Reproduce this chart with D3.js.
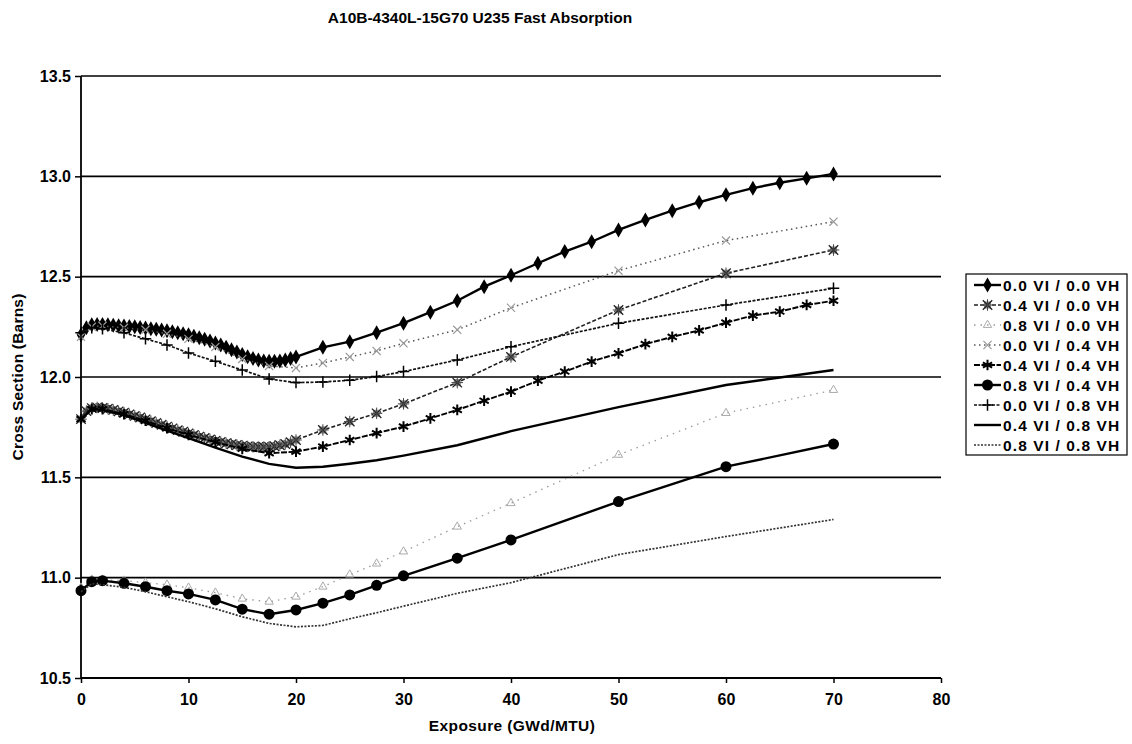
<!DOCTYPE html>
<html>
<head>
<meta charset="utf-8">
<script src="https://cdn.jsdelivr.net/npm/d3@7"></script>
<style>
  body { margin: 0; background: #fff; }
  svg { font-family: "Liberation Sans", Arial, sans-serif; font-weight: bold; }
</style>
</head>
<body>
<svg id="chart" width="1132" height="744"></svg>
<script>
// exposure grids (GWd/MTU)
const expDense = [0,0.5,1,1.5,2,2.5,3,3.5,4,4.5,5,5.5,6,6.5,7,7.5,8,8.5,9,9.5,10,10.5,11,11.5,12,12.5,13,13.5,14,14.5,15,15.5,16,16.5,17,17.5,18,18.5,19,19.5,20]
const expSparse = [0,1,2,4,6,8,10,12.5,15,17.5,20]
const expFine = [22.5,25,27.5,30,32.5,35,37.5,40,42.5,45,47.5,50,52.5,55,57.5,60,62.5,65,67.5,70]
const expCoarse = [22.5,25,27.5,30,35,40,50,60,70]

// cross sections (barns)
const vi00vh00 = [12.21,12.245,12.26,12.262,12.262,12.26,12.258,12.256,12.254,12.252,12.25,12.247,12.244,12.241,12.238,12.234,12.23,12.225,12.22,12.215,12.21,12.203,12.196,12.188,12.18,12.17,12.16,12.148,12.136,12.124,12.112,12.101,12.092,12.085,12.08,12.078,12.078,12.08,12.085,12.092,12.10,
  12.148,12.176,12.221,12.268,12.323,12.38,12.45,12.507,12.567,12.625,12.674,12.733,12.783,12.829,12.871,12.908,12.941,12.968,12.99,13.012]
const vi04vh00 = [11.79,11.83,11.845,11.848,11.846,11.842,11.836,11.829,11.822,11.814,11.806,11.798,11.789,11.78,11.771,11.762,11.753,11.744,11.735,11.727,11.719,11.711,11.703,11.696,11.689,11.682,11.676,11.67,11.665,11.661,11.657,11.654,11.652,11.651,11.651,11.652,11.655,11.66,11.666,11.675,11.686,
  11.736,11.778,11.819,11.866,11.972,12.10,12.334,12.517,12.633]
const vi08vh00 = [10.95,10.99,10.99,10.985,10.975,10.965,10.95,10.925,10.895,10.88,10.905, 10.955,11.015,11.07,11.13,11.254,11.371,11.612,11.82,11.935]
const vi00vh04 = [12.20,12.25,12.255,12.245,12.235,12.215,12.19,12.15,12.09,12.055,12.045, 12.07,12.10,12.13,12.168,12.235,12.345,12.53,12.68,12.774]
const vi04vh04 = [11.79,11.84,11.84,11.815,11.782,11.745,11.712,11.675,11.642,11.62,11.628,
  11.653,11.686,11.72,11.753,11.794,11.836,11.882,11.927,11.982,12.027,12.077,12.118,12.164,12.2,12.232,12.271,12.306,12.326,12.359,12.38]
const vi08vh04 = [10.935,10.98,10.985,10.972,10.955,10.935,10.919,10.889,10.843,10.818,10.839, 10.873,10.914,10.962,11.009,11.097,11.188,11.379,11.553,11.666]
const vi00vh08 = [12.22,12.245,12.24,12.22,12.19,12.16,12.12,12.078,12.035,11.99,11.972, 11.975,11.984,12.002,12.027,12.085,12.151,12.268,12.359,12.442]
const vi04vh08 = [11.79,11.84,11.835,11.81,11.772,11.733,11.695,11.648,11.603,11.567,11.548, 11.553,11.568,11.585,11.608,11.66,11.73,11.85,11.96,12.035]
const vi08vh08 = [10.93,10.97,10.965,10.952,10.93,10.905,10.88,10.845,10.805,10.772,10.755, 10.762,10.795,10.825,10.858,10.922,10.975,11.115,11.205,11.29]

const xTicks = [0,10,20,30,40,50,60,70,80]
const yTicks = [10.5,11.0,11.5,12.0,12.5,13.0,13.5]

const series = [
  { name: "0.0 VI / 0.0 VH", x: expDense.concat(expFine), y: vi00vh00, stroke: "#000", width: 2.4, dash: null, marker: "diamond" },
  { name: "0.4 VI / 0.0 VH", x: expDense.concat(expCoarse), y: vi04vh00, stroke: "#222", width: 1.6, dash: "4,2", marker: "hatch" },
  { name: "0.8 VI / 0.0 VH", x: expSparse.concat(expCoarse), y: vi08vh00, stroke: "#9a9a9a", width: 1.3, dash: "1.5,5", marker: "tri" },
  { name: "0.0 VI / 0.4 VH", x: expSparse.concat(expCoarse), y: vi00vh04, stroke: "#555", width: 1.5, dash: "1.5,3.5", marker: "times" },
  { name: "0.4 VI / 0.4 VH", x: expSparse.concat(expFine), y: vi04vh04, stroke: "#000", width: 1.9, dash: "6,1.5", marker: "aster" },
  { name: "0.8 VI / 0.4 VH", x: expSparse.concat(expCoarse), y: vi08vh04, stroke: "#000", width: 2.4, dash: null, marker: "circle" },
  { name: "0.0 VI / 0.8 VH", x: expSparse.concat(expCoarse), y: vi00vh08, stroke: "#111", width: 1.7, dash: "3,1.5", marker: "plus" },
  { name: "0.4 VI / 0.8 VH", x: expSparse.concat(expCoarse), y: vi04vh08, stroke: "#000", width: 2.4, dash: null, marker: null },
  { name: "0.8 VI / 0.8 VH", x: expSparse.concat(expCoarse), y: vi08vh08, stroke: "#333", width: 1.7, dash: "2,1.5", marker: null }
]

const svg = d3.select("#chart")
const x = d3.scaleLinear().domain([0, 80]).range([81, 941])
const y = d3.scaleLinear().domain([10.5, 13.5]).range([678, 76])

// title
svg.append("text")
  .attr("x", 480).attr("y", 23)
  .attr("text-anchor", "middle")
  .style("font-size", "15.5px")
  .text("A10B-4340L-15G70 U235 Fast Absorption")

// gridlines
svg.append("g").selectAll("line")
  .data(yTicks.filter(d => d > 10.5))
  .enter().append("line")
  .attr("x1", x(0)).attr("x2", x(80))
  .attr("y1", d => y(d)).attr("y2", d => y(d))
  .attr("stroke", "#000").attr("stroke-width", 1.6)

// axes
const yAxis = d3.axisLeft(y).tickValues(yTicks).tickFormat(d3.format(".1f")).tickSize(6).tickPadding(4)
const gy = svg.append("g").attr("transform", "translate(" + x(0) + ",0)").call(yAxis)
gy.selectAll("text").style("font-size", "16px").style("font-family", "inherit")

const xAxis = d3.axisBottom(x).tickValues(xTicks).tickFormat(d3.format("d")).tickSize(5).tickPadding(11)
const gx = svg.append("g").attr("transform", "translate(0," + y(10.5) + ")").call(xAxis)
gx.selectAll("text").style("font-size", "16px").style("font-family", "inherit")

svg.selectAll(".domain").attr("stroke", "#000").attr("stroke-width", 1.8)
svg.selectAll(".tick line").attr("stroke", "#000").attr("stroke-width", 1.5)
gy.select(".domain").attr("d", "M0," + y(13.5) + "V" + y(10.5))
gx.select(".domain").attr("d", "M" + x(0) + ",0H" + x(80))

// axis titles
svg.append("text")
  .attr("transform", "translate(23," + 377 + ") rotate(-90)")
  .attr("text-anchor", "middle")
  .style("font-size", "15.5px")
  .style("letter-spacing", "0.2px")
  .text("Cross Section (Barns)")

svg.append("text")
  .attr("x", 512).attr("y", 731)
  .attr("text-anchor", "middle")
  .style("font-size", "15.5px")
  .style("letter-spacing", "0.4px")
  .text("Exposure (GWd/MTU)")

function drawMarker(g, kind) {
  if (kind === "diamond") {
    g.append("path").attr("d", d3.symbol(d3.symbolDiamond, 65)()).attr("fill", "#000")
  } else if (kind === "hatch") {
    g.append("path").attr("d", d3.symbol(d3.symbolSquare, 50)()).attr("fill", "#888")
    g.append("path").attr("d", d3.symbol(d3.symbolTimes, 60)()).attr("fill", "none").attr("stroke", "#222").attr("stroke-width", 1.3)
    g.append("path").attr("d", d3.symbol(d3.symbolPlus, 45)()).attr("fill", "none").attr("stroke", "#444").attr("stroke-width", 1)
  } else if (kind === "tri") {
    g.append("path").attr("d", d3.symbol(d3.symbolTriangle, 30)()).attr("fill", "none").attr("stroke", "#aaa").attr("stroke-width", 1)
  } else if (kind === "times") {
    g.append("path").attr("d", d3.symbol(d3.symbolTimes, 45)()).attr("fill", "none").attr("stroke", "#999").attr("stroke-width", 1.2)
  } else if (kind === "aster") {
    g.append("path").attr("d", d3.symbol(d3.symbolAsterisk, 80)()).attr("fill", "none").attr("stroke", "#000").attr("stroke-width", 2)
  } else if (kind === "circle") {
    g.append("circle").attr("r", 5.5).attr("fill", "#000")
  } else if (kind === "plus") {
    g.append("path").attr("d", d3.symbol(d3.symbolPlus, 45)()).attr("fill", "none").attr("stroke", "#000").attr("stroke-width", 1.5)
  }
}

const line = d3.line().x(d => x(d[0])).y(d => y(d[1]))
const plot = svg.append("g")

series.forEach(s => {
  const pts = s.x.map((v, i) => [v, s.y[i]])
  plot.append("path")
    .datum(pts)
    .attr("d", line)
    .attr("fill", "none")
    .attr("stroke", s.stroke)
    .attr("stroke-width", s.width)
    .attr("stroke-dasharray", s.dash)
  if (s.marker) {
    plot.append("g").selectAll("g")
      .data(pts)
      .enter().append("g")
      .attr("transform", d => "translate(" + x(d[0]) + "," + y(d[1]) + ")")
      .each(function () { drawMarker(d3.select(this), s.marker) })
  }
})

// legend
const legend = svg.append("g")
legend.append("rect")
  .attr("x", 966).attr("y", 274).attr("width", 161).attr("height", 181)
  .attr("fill", "#fff").attr("stroke", "#000").attr("stroke-width", 1.2)

const item = legend.selectAll("g.item")
  .data(series)
  .enter().append("g")
  .attr("class", "item")
  .attr("transform", (d, i) => "translate(0," + (285 + i * 20) + ")")

item.append("line")
  .attr("x1", 974).attr("x2", 1001).attr("y1", 0).attr("y2", 0)
  .attr("stroke", d => d.stroke)
  .attr("stroke-width", d => d.width)
  .attr("stroke-dasharray", d => d.dash)

item.each(function (d) {
  if (d.marker) {
    const m = d3.select(this).append("g").attr("transform", "translate(987.5,0)")
    drawMarker(m, d.marker)
  }
})

item.append("text")
  .attr("x", 1003).attr("y", 5.5)
  .style("font-size", "15.5px")
  .style("letter-spacing", "1.1px")
  .text(d => d.name)
</script>
</body>
</html>
